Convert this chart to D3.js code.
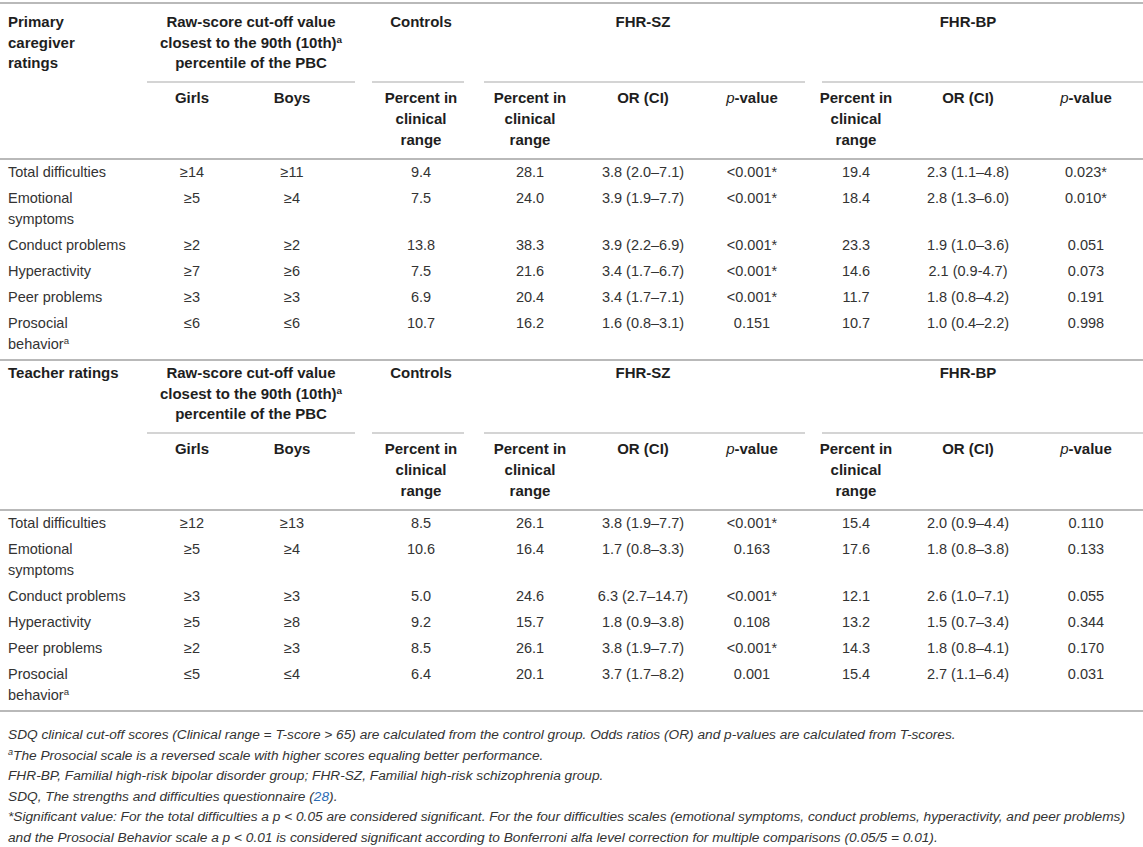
<!DOCTYPE html>
<html lang="en">
  <head>
    <meta charset="UTF-8" />
    <title>SDQ clinical range table</title>
    <script src="https://d3js.org/d3.v7.min.js"></script>
    <style>
      body { margin: 0; background: #fff; }
      text { font-family: "Liberation Sans", Arial, sans-serif; }
    </style>
  </head>
  <body>
    <div id="viz"></div>
    <script>
      // row labels (same for both rating blocks), "^" marks a superscript a
      const rowLabels = [
        ["Total difficulties"],
        ["Emotional", "symptoms"],
        ["Conduct problems"],
        ["Hyperactivity"],
        ["Peer problems"],
        ["Prosocial", "behavior^"]
      ];

      // primary caregiver ratings
      const parentGirls = ["≥14", "≥5", "≥2", "≥7", "≥3", "≤6"];
      const parentBoys = ["≥11", "≥4", "≥2", "≥6", "≥3", "≤6"];
      const parentControls = [9.4, 7.5, 13.8, 7.5, 6.9, 10.7];
      const parentSzPct = [28.1, 24.0, 38.3, 21.6, 20.4, 16.2];
      const parentSzOR = ["3.8 (2.0–7.1)", "3.9 (1.9–7.7)", "3.9 (2.2–6.9)", "3.4 (1.7–6.7)", "3.4 (1.7–7.1)", "1.6 (0.8–3.1)"];
      const parentSzP = ["<0.001*", "<0.001*", "<0.001*", "<0.001*", "<0.001*", "0.151"];
      const parentBpPct = [19.4, 18.4, 23.3, 14.6, 11.7, 10.7];
      const parentBpOR = ["2.3 (1.1–4.8)", "2.8 (1.3–6.0)", "1.9 (1.0–3.6)", "2.1 (0.9-4.7)", "1.8 (0.8–4.2)", "1.0 (0.4–2.2)"];
      const parentBpP = ["0.023*", "0.010*", "0.051", "0.073", "0.191", "0.998"];

      // teacher ratings
      const teacherGirls = ["≥12", "≥5", "≥3", "≥5", "≥2", "≤5"];
      const teacherBoys = ["≥13", "≥4", "≥3", "≥8", "≥3", "≤4"];
      const teacherControls = [8.5, 10.6, 5.0, 9.2, 8.5, 6.4];
      const teacherSzPct = [26.1, 16.4, 24.6, 15.7, 26.1, 20.1];
      const teacherSzOR = ["3.8 (1.9–7.7)", "1.7 (0.8–3.3)", "6.3 (2.7–14.7)", "1.8 (0.9–3.8)", "3.8 (1.9–7.7)", "3.7 (1.7–8.2)"];
      const teacherSzP = ["<0.001*", "0.163", "<0.001*", "0.108", "<0.001*", "0.001"];
      const teacherBpPct = [15.4, 17.6, 12.1, 13.2, 14.3, 15.4];
      const teacherBpOR = ["2.0 (0.9–4.4)", "1.8 (0.8–3.8)", "2.6 (1.0–7.1)", "1.5 (0.7–3.4)", "1.8 (0.8–4.1)", "2.7 (1.1–6.4)"];
      const teacherBpP = ["0.110", "0.133", "0.055", "0.344", "0.170", "0.031"];

      const blockTitles = [["Primary", "caregiver", "ratings"], ["Teacher ratings"]];

      // footnote lines: [text, style] pieces
      const footnotes = [
        [["SDQ clinical cut-off scores (Clinical range = T-score > 65) are calculated from the control group. Odds ratios (OR) and p-values are calculated from T-scores."]],
        [["a", "sup"], ["The Prosocial scale is a reversed scale with higher scores equaling better performance."]],
        [["FHR-BP, Familial high-risk bipolar disorder group; FHR-SZ, Familial high-risk schizophrenia group."]],
        [["SDQ, The strengths and difficulties questionnaire ("], ["28", "link"], [")."]],
        [["*Significant value: For the total difficulties a p < 0.05 are considered significant. For the four difficulties scales (emotional symptoms, conduct problems, hyperactivity, and peer problems)"]],
        [["and the Prosocial Behavior scale a p < 0.01 is considered significant according to Bonferroni alfa level correction for multiple comparisons (0.05/5 = 0.01)."]]
      ];

      const blocks = [
        { title: blockTitles[0], girls: parentGirls, boys: parentBoys, controls: parentControls,
          szPct: parentSzPct, szOR: parentSzOR, szP: parentSzP, bpPct: parentBpPct, bpOR: parentBpOR, bpP: parentBpP },
        { title: blockTitles[1], girls: teacherGirls, boys: teacherBoys, controls: teacherControls,
          szPct: teacherSzPct, szOR: teacherSzOR, szP: teacherSzP, bpPct: teacherBpPct, bpOR: teacherBpOR, bpP: teacherBpP }
      ];

      const width = 1143, height = 847;
      const svg = d3.select("#viz").append("svg")
        .attr("width", width)
        .attr("height", height);

      const colKeys = ["girls", "boys", "controls", "szPct", "szOR", "szP", "bpPct", "bpOR", "bpP"];
      const x = d3.scaleOrdinal().domain(colKeys)
        .range([192, 292, 421, 530, 643, 752, 856, 968, 1086]);
      const fmt = d3.format(".1f");
      const labelX = 8;
      const blockStep = 351;
      const lineH = 21;
      const rowH = d => 26 + lineH * (d.length - 1);
      const rowTops = [0].concat(Array.from(d3.cumsum(rowLabels.map(rowH)))).slice(0, rowLabels.length);
      const rowY = d3.scaleOrdinal().domain(d3.range(rowLabels.length)).range(rowTops);

      const bodyColor = "#333";
      const headColor = "#1e1e1e";
      const headSize = 15;
      const bodySize = 14.5;

      // write a text made of [text, style] pieces
      function rich(sel, parts) {
        let raised = false;
        parts.forEach(([t, style]) => {
          const ts = sel.append("tspan").text(t);
          if (style === "sup") {
            ts.attr("dy", -5).attr("font-size", "0.66em");
            raised = true;
          } else if (raised) {
            ts.attr("dy", 5);
            raised = false;
          }
          if (style === "i") ts.attr("font-style", "italic").attr("font-weight", "normal");
          if (style === "link") ts.attr("fill", "#2b6cb5");
        });
        return sel;
      }

      function splitSup(s) {
        return s.endsWith("^") ? [[s.slice(0, -1)], ["a", "sup"]] : [[s]];
      }

      function rule(g, y, x0, x1, thin) {
        g.append("line")
          .attr("x1", x0).attr("x2", x1)
          .attr("y1", y).attr("y2", y)
          .attr("stroke", thin ? "#c6c6c6" : "#b9b9b9")
          .attr("stroke-width", thin ? 1.5 : 2);
      }

      const groups = [
        { lines: [[["Raw-score cut-off value"]], [["closest to the 90th (10th)"], ["a", "sup"]], [["percentile of the PBC"]]],
          x0: 147, x1: 355, cx: 251 },
        { lines: [[["Controls"]]], x0: 372, x1: 464, cx: x("controls") },
        { lines: [[["FHR-SZ"]]], x0: 484, x1: 805, cx: x("szOR") },
        { lines: [[["FHR-BP"]]], x0: 822, x1: width, cx: x("bpOR") }
      ];

      const subHeads = {
        girls: [[["Girls"]]],
        boys: [[["Boys"]]],
        controls: [[["Percent in"]], [["clinical"]], [["range"]]],
        szPct: [[["Percent in"]], [["clinical"]], [["range"]]],
        szOR: [[["OR (CI)"]]],
        szP: [[["p", "i"], ["-value"]]],
        bpPct: [[["Percent in"]], [["clinical"]], [["range"]]],
        bpOR: [[["OR (CI)"]]],
        bpP: [[["p", "i"], ["-value"]]]
      };

      blocks.forEach((b, bi) => {
        const g = svg.append("g").attr("transform", `translate(0,${bi * blockStep})`);

        if (bi === 0) rule(g, 3, 0, width, false);

        // block title
        b.title.forEach((t, i) => {
          g.append("text").attr("x", labelX).attr("y", 27 + i * 20.5)
            .attr("font-size", headSize).attr("font-weight", "bold").attr("fill", headColor)
            .text(t);
        });

        // spanning headers with underlines
        groups.forEach(gr => {
          gr.lines.forEach((parts, i) => {
            rich(g.append("text").attr("x", gr.cx).attr("y", 27 + i * 20.5)
              .attr("text-anchor", "middle").attr("font-size", headSize)
              .attr("font-weight", "bold").attr("fill", headColor), parts);
          });
          rule(g, 82, gr.x0, gr.x1, true);
        });

        // column sub headers
        colKeys.forEach(k => {
          subHeads[k].forEach((parts, i) => {
            rich(g.append("text").attr("x", x(k)).attr("y", 103 + i * 20.8)
              .attr("text-anchor", "middle").attr("font-size", headSize)
              .attr("font-weight", "bold").attr("fill", headColor), parts);
          });
        });

        rule(g, 159, 0, width, false);

        const body = g.append("g").attr("transform", "translate(0,177)");

        // row labels
        const rows = body.selectAll("g.row").data(rowLabels).join("g")
          .attr("class", "row")
          .attr("transform", (d, i) => `translate(0,${rowY(i)})`);

        rows.each(function (d) {
          d.forEach((line, li) => {
            rich(d3.select(this).append("text").attr("x", labelX).attr("y", li * lineH)
              .attr("font-size", bodySize).attr("fill", bodyColor), splitSup(line));
          });
        });

        // cells
        colKeys.forEach(k => {
          const vals = b[k];
          body.selectAll(`text.${k}`).data(vals).join("text")
            .attr("class", k)
            .attr("x", x(k))
            .attr("y", (d, i) => rowY(i))
            .attr("text-anchor", "middle")
            .attr("font-size", bodySize)
            .attr("fill", bodyColor)
            .text(d => typeof d === "number" ? fmt(d) : d);
        });

        rule(g, 360, 0, width, false);
      });

      // footnotes
      const foot = svg.append("g").attr("transform", "translate(0,739)");
      footnotes.forEach((parts, i) => {
        rich(foot.append("text").attr("x", labelX).attr("y", i * 20.6)
          .attr("font-size", 13.7).attr("font-style", "italic").attr("fill", bodyColor), parts);
      });
    </script>
  </body>
</html>
